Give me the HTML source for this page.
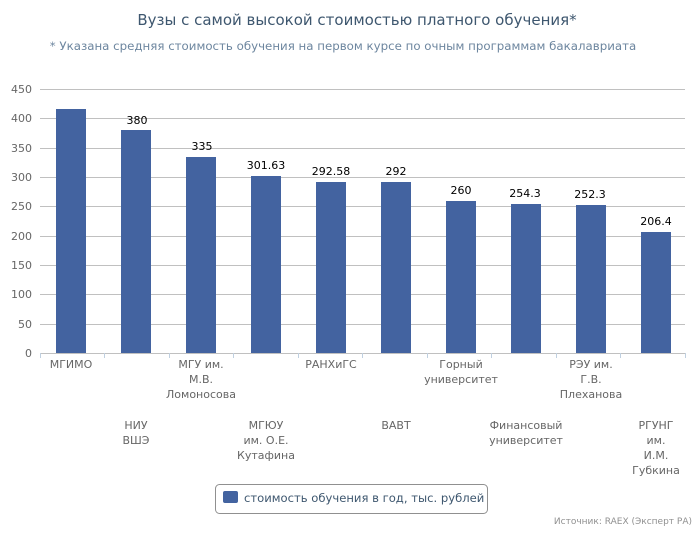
<!DOCTYPE html>
<html><head><meta charset="utf-8"><style>
body{margin:0;background:#fff;}
svg text{font-family:"DejaVu Sans","Liberation Sans",sans-serif;}
</style></head><body>
<svg width="700" height="530" xmlns="http://www.w3.org/2000/svg">
<text x="357" y="25" text-anchor="middle" font-size="15" fill="#3e576f">Вузы с самой высокой стоимостью платного обучения*</text>
<text x="343" y="50" text-anchor="middle" font-size="11.8" fill="#6d869f">* Указана средняя стоимость обучения на первом курсе по очным программам бакалавриата</text>
<g stroke="#c0c0c0" stroke-width="1">
<line x1="40" x2="685" y1="89.5" y2="89.5"/><line x1="40" x2="685" y1="118.5" y2="118.5"/>
<line x1="40" x2="685" y1="148.5" y2="148.5"/><line x1="40" x2="685" y1="177.5" y2="177.5"/>
<line x1="40" x2="685" y1="206.5" y2="206.5"/><line x1="40" x2="685" y1="236.5" y2="236.5"/>
<line x1="40" x2="685" y1="265.5" y2="265.5"/><line x1="40" x2="685" y1="294.5" y2="294.5"/>
<line x1="40" x2="685" y1="324.5" y2="324.5"/><line x1="40" x2="685" y1="353.5" y2="353.5"/>
</g>
<g stroke="#c0d0e0"><line x1="40.5" x2="40.5" y1="353" y2="358"/><line x1="104.5" x2="104.5" y1="353" y2="358"/><line x1="169.5" x2="169.5" y1="353" y2="358"/><line x1="233.5" x2="233.5" y1="353" y2="358"/><line x1="298.5" x2="298.5" y1="353" y2="358"/><line x1="362.5" x2="362.5" y1="353" y2="358"/><line x1="427.5" x2="427.5" y1="353" y2="358"/><line x1="491.5" x2="491.5" y1="353" y2="358"/><line x1="556.5" x2="556.5" y1="353" y2="358"/><line x1="620.5" x2="620.5" y1="353" y2="358"/><line x1="685.5" x2="685.5" y1="353" y2="358"/></g>
<g font-size="11" fill="#666" text-anchor="end">
<text x="32" y="93">450</text><text x="32" y="122">400</text><text x="32" y="152">350</text><text x="32" y="181">300</text><text x="32" y="210">250</text><text x="32" y="240">200</text><text x="32" y="269">150</text><text x="32" y="298">100</text><text x="32" y="328">50</text><text x="32" y="357">0</text>
</g>
<g fill="#4363a0">
<rect x="56" y="109" width="30" height="244"/>
<rect x="121" y="130" width="30" height="223"/>
<rect x="186" y="157" width="30" height="196"/>
<rect x="251" y="176" width="30" height="177"/>
<rect x="316" y="182" width="30" height="171"/>
<rect x="381" y="182" width="30" height="171"/>
<rect x="446" y="201" width="30" height="152"/>
<rect x="511" y="204" width="30" height="149"/>
<rect x="576" y="205" width="30" height="148"/>
<rect x="641" y="232" width="30" height="121"/>
</g>
<g font-size="11" fill="#000" text-anchor="middle">
<text x="137" y="124">380</text><text x="202" y="150">335</text><text x="266" y="169">301.63</text><text x="331" y="175">292.58</text><text x="396" y="175">292</text><text x="461" y="194">260</text><text x="525" y="197">254.3</text><text x="590" y="198">252.3</text><text x="656" y="225">206.4</text>
</g>
<g font-size="11" fill="#666" text-anchor="middle">
<text x="71" y="368">МГИМО</text>
<text x="136" y="429">НИУ</text><text x="136" y="444">ВШЭ</text>
<text x="201" y="368">МГУ им.</text><text x="201" y="383">М.В.</text><text x="201" y="398">Ломоносова</text>
<text x="266" y="429">МГЮУ</text><text x="266" y="444">им. О.Е.</text><text x="266" y="459">Кутафина</text>
<text x="331" y="368">РАНХиГС</text>
<text x="396" y="429">ВАВТ</text>
<text x="461" y="368">Горный</text><text x="461" y="383">университет</text>
<text x="526" y="429">Финансовый</text><text x="526" y="444">университет</text>
<text x="591" y="368">РЭУ им.</text><text x="591" y="383">Г.В.</text><text x="591" y="398">Плеханова</text>
<text x="656" y="429">РГУНГ</text><text x="656" y="444">им.</text><text x="656" y="459">И.М.</text><text x="656" y="474">Губкина</text>
</g>
<rect x="215.5" y="484.5" width="272" height="29" rx="4" fill="#fff" stroke="#909090"/>
<rect x="223" y="491" width="15" height="12" rx="2" fill="#4363a0"/>
<text x="244" y="502" font-size="11.6" fill="#3e576f">стоимость обучения в год, тыс. рублей</text>
<text x="692" y="524" text-anchor="end" font-size="9" fill="#909090">Источник: RAEX (Эксперт РА)</text>
</svg>
</body></html>
